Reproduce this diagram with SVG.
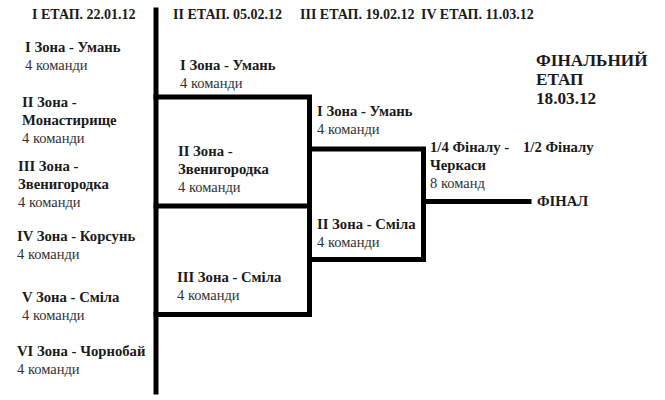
<svg xmlns="http://www.w3.org/2000/svg" width="665" height="400" viewBox="0 0 665 400">
<style>
text{font-family:'Liberation Serif','DejaVu Serif',serif;font-size:14.5px;fill:#333}
.b{font-weight:bold;fill:#1a1a1a;font-size:14.7px}
.h{font-weight:bold;fill:#1a1a1a;font-size:14px}
.f{font-weight:bold;fill:#1a1a1a;font-size:17.2px}
.ln{stroke:#000;stroke-width:5;fill:none;stroke-linecap:square}
</style>
<rect width="665" height="400" fill="#fff"/>
<g font-family="Liberation Serif, DejaVu Serif, serif">
<g id="headers">
<text class="h" x="32" y="19">I ЕТАП. 22.01.12</text>
<text class="h" x="173" y="19">II ЕТАП. 05.02.12</text>
<text class="h" x="300" y="19">III ЕТАП. 19.02.12</text>
<text class="h" x="421" y="19">IV ЕТАП. 11.03.12</text>
</g>
<g id="connectors">
<line class="ln" x1="156" y1="10" x2="156" y2="392"/>
<polyline class="ln" points="156,97 309.5,97 309.5,314.5 156,314.5"/>
<line class="ln" x1="156" y1="206" x2="309.5" y2="206"/>
<polyline class="ln" points="309.5,149 423.5,149 423.5,259.5 309.5,259.5"/>
<line class="ln" x1="423.5" y1="201.5" x2="529" y2="201.5"/>
</g>
<g id="s1-z1"><text class="b" x="25" y="52">I Зона - Умань</text><text x="25" y="70">4 команди</text></g>
<g id="s1-z2"><text class="b" x="22" y="107">II Зона -</text><text class="b" x="22" y="125">Монастирище</text><text x="22" y="143">4 команди</text></g>
<g id="s1-z3"><text class="b" x="18" y="171">III Зона -</text><text class="b" x="18" y="189">Звенигородка</text><text x="18" y="207">4 команди</text></g>
<g id="s1-z4"><text class="b" x="17" y="241">IV Зона - Корсунь</text><text x="17" y="259">4 команди</text></g>
<g id="s1-z5"><text class="b" x="22" y="302">V Зона - Сміла</text><text x="22" y="320">4 команди</text></g>
<g id="s1-z6"><text class="b" x="17" y="356">VI Зона - Чорнобай</text><text x="17" y="374">4 команди</text></g>
<g id="s2-z1"><text class="b" x="180" y="70">I Зона - Умань</text><text x="180" y="88">4 команди</text></g>
<g id="s2-z2"><text class="b" x="178" y="156">II Зона -</text><text class="b" x="178" y="174">Звенигородка</text><text x="178" y="192">4 команди</text></g>
<g id="s2-z3"><text class="b" x="177" y="282">III Зона - Сміла</text><text x="177" y="300">4 команди</text></g>
<g id="s3-z1"><text class="b" x="317" y="116">I Зона - Умань</text><text x="317" y="134">4 команди</text></g>
<g id="s3-z2"><text class="b" x="317" y="229">II Зона - Сміла</text><text x="317" y="247">4 команди</text></g>
<g id="s4"><text class="b" x="430" y="152">1/4 Фіналу -</text><text class="b" x="430" y="170">Черкаси</text><text x="430" y="188">8 команд</text></g>
<g id="semi"><text class="b" x="523" y="152">1/2 Фіналу</text></g>
<g id="final"><text class="b" x="537" y="206">ФІНАЛ</text></g>
<g id="final-stage"><text class="f" x="536" y="66">ФІНАЛЬНИЙ</text><text class="f" x="536" y="85">ЕТАП</text><text class="f" x="536" y="104">18.03.12</text></g>
</g>
</svg>
